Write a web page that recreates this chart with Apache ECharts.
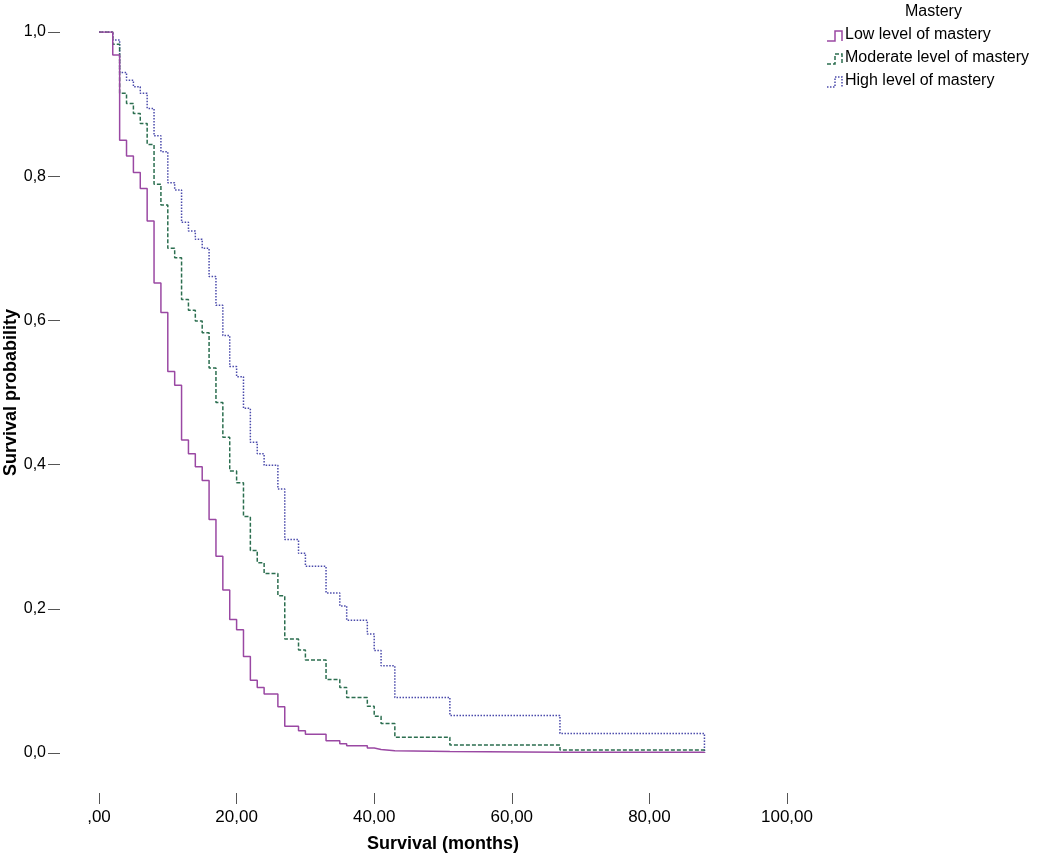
<!DOCTYPE html>
<html>
<head>
<meta charset="utf-8">
<script src="https://cdn.jsdelivr.net/npm/echarts@6/dist/echarts.min.js"></script>
<style>html,body{margin:0;padding:0;background:#fff}#c{width:1050px;height:856px}</style>
</head>
<body>
<div id="c"></div>
<script>
// Survival time (months) at which the curves step
const times = [0,2,3,4,5,6,7,8,9,10,11,12,13,14,15,16,17,18,19,20,21,22,23,24,26,27,29,30,33,35,36,39,40,41,43,51,67,88];
const lowMastery = [1,0.968,0.850,0.828,0.805,0.783,0.738,0.652,0.611,0.529,0.510,0.434,0.415,0.397,0.378,0.324,0.273,0.226,0.185,0.171,0.134,0.101,0.091,0.082,0.064,0.037,0.031,0.026,0.017,0.013,0.010,0.007,0.005,0.003,0.002,0.001,0.001,0];
const moderateMastery = [1,0.983,0.915,0.901,0.887,0.873,0.844,0.789,0.760,0.700,0.687,0.629,0.614,0.599,0.583,0.534,0.486,0.438,0.391,0.375,0.328,0.281,0.264,0.249,0.218,0.158,0.143,0.129,0.102,0.091,0.077,0.065,0.051,0.041,0.022,0.011,0.004,0];
const highMastery = [1,0.989,0.944,0.933,0.924,0.915,0.894,0.856,0.834,0.791,0.781,0.736,0.724,0.7125,0.700,0.661,0.621,0.579,0.536,0.522,0.478,0.431,0.415,0.399,0.366,0.296,0.277,0.259,0.222,0.204,0.184,0.165,0.142,0.121,0.077,0.052,0.027,0];
const seriesNames = ['Low level of mastery','Moderate level of mastery','High level of mastery'];
const xTicks = [0,20,40,60,80,100];
const yTicks = [0,0.2,0.4,0.6,0.8,1.0];

const colors = ['#9a48a3','#2b6e4f','#4a4aab'];
const dashes = ['solid',[4,2],[1.5,1.5]];

const chart = echarts.init(document.getElementById('c'), null, {renderer:'canvas'});
const toPairs = v => times.map((t,i)=>[t,v[i]]);
const allData = [lowMastery, moderateMastery, highMastery];

const legendX = 827, legendY0 = 36, legendDy = 23;
const legendGraphics = [{
  type:'text', left: 905, top: 4,
  style:{text:'Mastery', font:'16px "Liberation Sans", Arial, sans-serif', fill:'#000'}
}];
seriesNames.forEach((n,i)=>{
  const y = legendY0 + i*legendDy;
  legendGraphics.push({
    type:'polyline',
    shape:{points:[[legendX,y+5],[legendX+8,y+5],[legendX+8,y-5],[legendX+15,y-5],[legendX+15,y+5]]},
    style:{stroke:colors[i], lineWidth:1.5, fill:null, lineDash: dashes[i]==='solid'?null:dashes[i]}
  });
  legendGraphics.push({
    type:'text', left: legendX+18, top: y-9,
    style:{text:n, font:'16px "Liberation Sans", Arial, sans-serif', fill:'#000'}
  });
});

const xMin = xTicks[0], xMax = xTicks[xTicks.length-1], xStep = xTicks[1]-xTicks[0];
const yMin = yTicks[0], yMax = yTicks[yTicks.length-1], yStep = yTicks[1]-yTicks[0];
const fontNarrow = '"Liberation Sans Narrow", "Liberation Sans", Arial, sans-serif';
const fontReg = '"Liberation Sans", Arial, sans-serif';

chart.setOption({
  animation:false,
  backgroundColor:'#fff',
  grid:[
    {left:99, right:263, top:32, bottom:103, containLabel:false, outerBoundsMode:'none'},
    {left:99, right:263, top:32, bottom:63, containLabel:false, outerBoundsMode:'none'},
    {left:60, right:302, top:32, bottom:103, containLabel:false, outerBoundsMode:'none'}
  ],
  xAxis:[
    {gridIndex:0, type:'value', min:xMin, max:xMax, interval:xStep, show:false},
    {gridIndex:1, type:'value', min:xMin, max:xMax, interval:xStep,
      axisLine:{show:false},
      axisTick:{show:true, length:11, lineStyle:{color:'#555', width:1}},
      splitLine:{show:false},
      axisLabel:{margin:16, color:'#000', fontSize:17, fontFamily:fontNarrow,
        formatter: v => { const s = v.toFixed(2).replace('.',','); return s.startsWith('0,') ? s.slice(1) : s; }},
      name:'Survival (months)', nameLocation:'middle', nameGap:42, nameMoveOverlap:false,
      nameTextStyle:{color:'#000', fontSize:18, fontWeight:'bold', fontFamily:fontNarrow}
    },
    {gridIndex:2, type:'value', min:xMin, max:xMax, show:false}
  ],
  yAxis:[
    {gridIndex:0, type:'value', min:yMin, max:yMax, interval:yStep, show:false},
    {gridIndex:1, type:'value', min:yMin, max:yMax, show:false},
    {gridIndex:2, type:'value', min:yMin, max:yMax, interval:yStep,
      axisLine:{show:false},
      axisTick:{show:true, length:12, lineStyle:{color:'#555', width:1}},
      splitLine:{show:false},
      axisLabel:{margin:14, color:'#000', fontSize:16, fontFamily:fontReg,
        formatter: v => v.toFixed(1).replace('.',',')},
      name:'Survival probability', nameLocation:'middle', nameGap:40, nameRotate:90, nameMoveOverlap:false,
      nameTextStyle:{color:'#000', fontSize:18, fontWeight:'bold', fontFamily:fontNarrow}
    }
  ],
  series: seriesNames.map((n,i)=>({
    name:n, type:'line', step:'end', data: toPairs(allData[i]),
    xAxisIndex:0, yAxisIndex:0,
    symbol:'none', showSymbol:false, z: 3-i,
    lineStyle:{color:colors[i], width:1.5, type: dashes[i]}
  })),
  graphic: legendGraphics
});
</script>
</body>
</html>
